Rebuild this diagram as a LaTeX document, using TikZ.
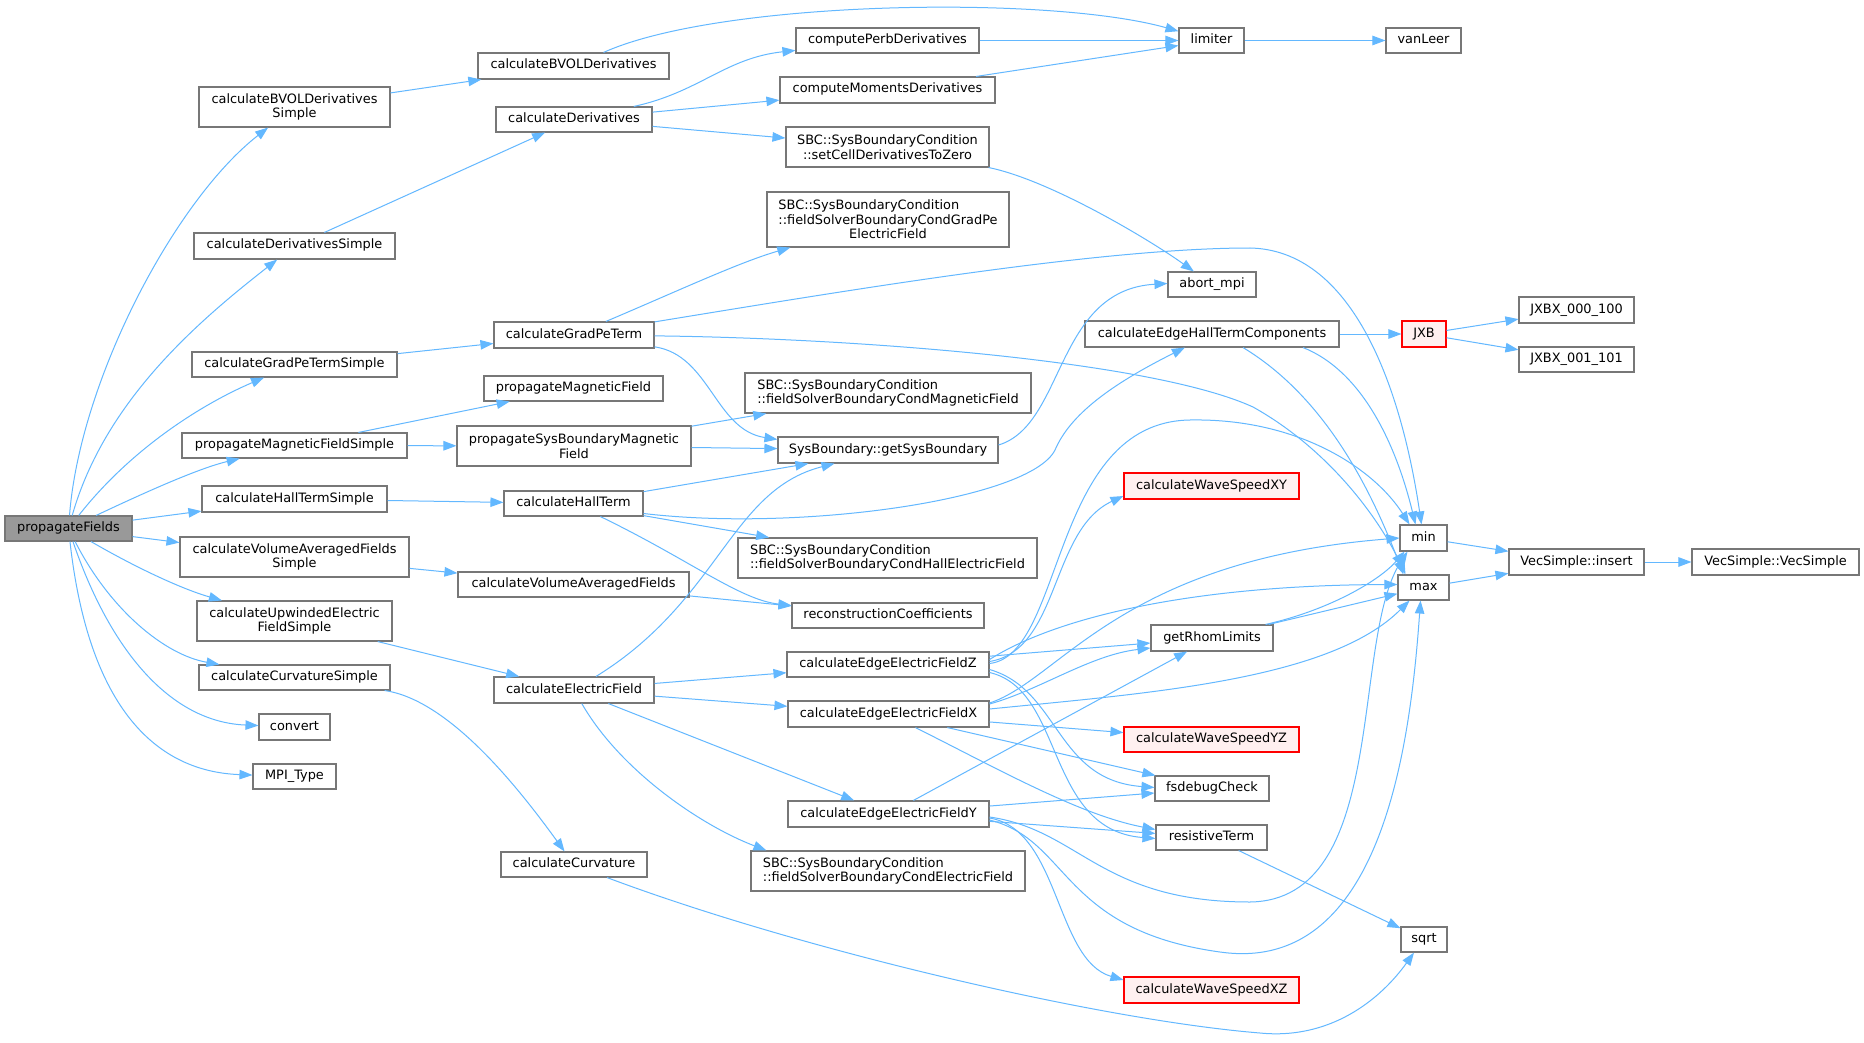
\documentclass[tikz,border=0pt]{standalone}
\usepackage{fontspec}
\setmainfont{DejaVu Sans}
\usetikzlibrary{arrows.meta}
\definecolor{edgeblue}{HTML}{63B8FF}
\definecolor{nodegray}{HTML}{777777}
\definecolor{rootfill}{HTML}{999999}
\definecolor{redfill}{HTML}{FFF0F0}
\newcommand{\sbcleft}[2]{\rlap{#1}\phantom{#2}}
\begin{document}
\begin{tikzpicture}[x=1pt,y=-1pt,
  lbl/.style={inner sep=0pt, font=\fontsize{12.9}{14.6}\selectfont, text=black},
  box/.style={lbl, draw=nodegray, fill=white, line width=1.1pt, text height=9.5pt, text depth=3.5pt},
  mbox/.style={lbl, draw=nodegray, fill=white, line width=1.1pt, align=center},
  redbox/.style={box, draw=red, fill=redfill},
  rootbox/.style={box, fill=rootfill},
  e/.style={draw=edgeblue, line width=1pt, -{Triangle[length=13pt,width=9.5pt]}}]
\useasboundingbox (0,0) rectangle (1864,1043);
\fill[white] (0,0) rectangle (1864,1043);
% column 1
\node[rootbox, minimum width=127pt, minimum height=25pt] (pf) at (68.5,528.5) {propagateFields};
\node[mbox, minimum width=191pt, minimum height=40pt] (bvols) at (294.5,107) {calculateBVOLDerivatives\\Simple};
\node[box, minimum width=201pt, minimum height=26pt] (ds) at (294.5,246) {calculateDerivativesSimple};
\node[box, minimum width=205pt, minimum height=25pt] (gps) at (294.5,364.5) {calculateGradPeTermSimple};
\node[box, minimum width=225pt, minimum height=25pt] (pmfs) at (294.5,445.5) {propagateMagneticFieldSimple};
\node[box, minimum width=185pt, minimum height=26pt] (hts) at (294.5,499) {calculateHallTermSimple};
\node[mbox, minimum width=229pt, minimum height=40pt] (vafs) at (294.5,557) {calculateVolumeAveragedFields\\Simple};
\node[mbox, minimum width=195pt, minimum height=40pt] (uefs) at (294.5,621) {calculateUpwindedElectric\\FieldSimple};
\node[box, minimum width=191pt, minimum height=25pt] (cs) at (294.5,677.5) {calculateCurvatureSimple};
\node[box, minimum width=71pt, minimum height=26pt] (conv) at (294.5,727) {convert};
\node[box, minimum width=83pt, minimum height=25pt] (mpi) at (294.5,776.5) {MPI\_Type};
% column 2
\node[box, minimum width=191pt, minimum height=26pt] (bvol) at (573.5,66) {calculateBVOLDerivatives};
\node[box, minimum width=156pt, minimum height=25pt] (der) at (574,119.5) {calculateDerivatives};
\node[box, minimum width=160pt, minimum height=26pt] (gp) at (574,335) {calculateGradPeTerm};
\node[box, minimum width=179pt, minimum height=25pt] (pmf) at (573.5,388.5) {propagateMagneticField};
\node[mbox, minimum width=234pt, minimum height=40pt] (psbmf) at (574,446) {propagateSysBoundaryMagnetic\\Field};
\node[box, minimum width=139pt, minimum height=25pt] (ht) at (573.5,503.5) {calculateHallTerm};
\node[box, minimum width=231pt, minimum height=25pt] (vaf) at (573.5,584.5) {calculateVolumeAveragedFields};
\node[box, minimum width=160pt, minimum height=26pt] (ef) at (574,690) {calculateElectricField};
\node[box, minimum width=146pt, minimum height=25pt] (curv) at (574,864.5) {calculateCurvature};
% column 3
\node[box, minimum width=183pt, minimum height=25pt] (perb) at (887.5,40.5) {computePerbDerivatives};
\node[box, minimum width=215pt, minimum height=26pt] (mom) at (887.5,90) {computeMomentsDerivatives};
\node[mbox, minimum width=203pt, minimum height=40pt] (scdz) at (887.5,147) {SBC::SysBoundaryCondition\\::setCellDerivativesToZero};
\node[mbox, minimum width=242pt, minimum height=55pt] (sgp) at (888,219.5) {\sbcleft{SBC::SysBoundaryCondition}{::fieldSolverBoundaryCondGradPe}\\::fieldSolverBoundaryCondGradPe\\ElectricField};
\node[mbox, minimum width=286pt, minimum height=40pt] (smf) at (888,393) {\sbcleft{SBC::SysBoundaryCondition}{::fieldSolverBoundaryCondMagneticField}\\::fieldSolverBoundaryCondMagneticField};
\node[box, minimum width=220pt, minimum height=26pt] (gsb) at (888,450) {SysBoundary::getSysBoundary};
\node[mbox, minimum width=299pt, minimum height=40pt] (shf) at (887.5,558) {\sbcleft{SBC::SysBoundaryCondition}{::fieldSolverBoundaryCondHallElectricField}\\::fieldSolverBoundaryCondHallElectricField};
\node[box, minimum width=192pt, minimum height=25pt] (rc) at (888,615.5) {reconstructionCoefficients};
\node[box, minimum width=202pt, minimum height=25pt] (ez) at (888,664.5) {calculateEdgeElectricFieldZ};
\node[box, minimum width=201pt, minimum height=26pt] (ex) at (888.5,714) {calculateEdgeElectricFieldX};
\node[box, minimum width=201pt, minimum height=26pt] (ey) at (888.5,814) {calculateEdgeElectricFieldY};
\node[mbox, minimum width=274pt, minimum height=40pt] (sef) at (888,871) {\sbcleft{SBC::SysBoundaryCondition}{::fieldSolverBoundaryCondElectricField}\\::fieldSolverBoundaryCondElectricField};
% column 4
\node[box, minimum width=65pt, minimum height=25pt] (lim) at (1211.5,40.5) {limiter};
\node[box, minimum width=88pt, minimum height=25pt] (abort) at (1212,284.5) {abort\_mpi};
\node[box, minimum width=254pt, minimum height=26pt] (ehtc) at (1212,334) {calculateEdgeHallTermComponents};
\node[redbox, minimum width=175pt, minimum height=26pt] (wxy) at (1211.5,486) {calculateWaveSpeedXY};
\node[box, minimum width=122pt, minimum height=26pt] (grl) at (1212,638) {getRhomLimits};
\node[redbox, minimum width=175pt, minimum height=25pt] (wyz) at (1211.5,739.5) {calculateWaveSpeedYZ};
\node[box, minimum width=114pt, minimum height=25pt] (fsd) at (1212,788.5) {fsdebugCheck};
\node[box, minimum width=111pt, minimum height=25pt] (rt) at (1211.5,837.5) {resistiveTerm};
\node[redbox, minimum width=175pt, minimum height=26pt] (wxz) at (1211.5,990) {calculateWaveSpeedXZ};
% column 5
\node[box, minimum width=75pt, minimum height=25pt] (van) at (1423.5,40.5) {vanLeer};
\node[redbox, minimum width=44pt, minimum height=26pt] (jxb) at (1424,334) {JXB};
\node[box, minimum width=47pt, minimum height=26pt] (nmin) at (1423.5,538) {min};
\node[box, minimum width=51pt, minimum height=25pt] (nmax) at (1423.5,587.5) {max};
\node[box, minimum width=46pt, minimum height=25pt] (sqrt) at (1424,939.5) {sqrt};
% column 6/7
\node[box, minimum width=115pt, minimum height=26pt] (j000) at (1576.5,310) {JXBX\_000\_100};
\node[box, minimum width=115pt, minimum height=25pt] (j001) at (1576.5,359.5) {JXBX\_001\_101};
\node[box, minimum width=135pt, minimum height=26pt] (ins) at (1576.5,562) {VecSimple::insert};
\node[box, minimum width=167pt, minimum height=26pt] (vs) at (1775.5,562) {VecSimple::VecSimple};

% edges from propagateFields
\draw[e] (pf) .. controls (80,380) and (175,200) .. (bvols);
\draw[e] (pf) .. controls (105,400) and (200,320) .. (ds);
\draw[e] (pf) .. controls (130,450) and (200,405) .. (gps);
\draw[e] (pf) .. controls (150,490) and (200,468) .. (pmfs);
\draw[e] (pf) -- (hts);
\draw[e] (pf) -- (vafs);
\draw[e] (pf) .. controls (140,570) and (185,590) .. (uefs);
\draw[e] (pf) .. controls (110,610) and (165,655) .. (cs);
\draw[e] (pf) .. controls (110,650) and (170,722) .. (conv);
\draw[e] (pf) .. controls (90,720) and (165,772) .. (mpi);
% column 1 -> 2
\draw[e] (bvols) -- (bvol);
\draw[e] (ds) -- (der);
\draw[e] (gps) -- (gp);
\draw[e] (pmfs) -- (pmf);
\draw[e] (pmfs) -- (psbmf);
\draw[e] (hts) -- (ht);
\draw[e] (vafs) -- (vaf);
\draw[e] (uefs) -- (ef);
\draw[e] (cs) .. controls (450,700) and (520,790) .. (curv);
% column 2 onwards
\draw[e] (bvol) .. controls (720,0) and (1050,-5) .. (lim);
\draw[e] (der) .. controls (700,92) and (725,58) .. (perb);
\draw[e] (der) -- (mom);
\draw[e] (der) -- (scdz);
\draw[e] (perb) -- (lim);
\draw[e] (mom) -- (lim);
\draw[e] (lim) -- (van);
\draw[e] (scdz) .. controls (1050,180) and (1150,240) .. (abort);
\draw[e] (gp) .. controls (680,290) and (740,262) .. (sgp);
\draw[e] (gp) .. controls (850,290) and (1100,248) .. (1250,248) .. controls (1350,250) and (1400,380) .. (nmin);
\draw[e] (gp) .. controls (850,338) and (1150,360) .. (1253,407) .. controls (1330,450) and (1380,520) .. ([xshift=-18pt]nmax.north);
\draw[e] (gp) .. controls (710,355) and (715,430) .. ([yshift=-3pt]gsb.north west);
\draw[e] (psbmf) -- (smf);
\draw[e] (psbmf) -- (gsb);
\draw[e] ([yshift=5pt]gsb.east) .. controls (1065,425) and (1055,290) .. ([yshift=1pt]abort.west);
\draw[e] (ht) -- (gsb);
\draw[e] ([yshift=-10pt]ht.east) .. controls (800,532) and (1030,500) .. (1055,450) .. controls (1070,415) and (1110,385) .. (ehtc);
\draw[e] (ht) -- (shf);
\draw[e] (ht) .. controls (690,560) and (740,600) .. (rc);
\draw[e] (vaf) -- (rc);
\draw[e] (ef) .. controls (720,600) and (730,490) .. (gsb);
\draw[e] (ef) -- (ez);
\draw[e] (ef) -- (ex);
\draw[e] (ef) -- (ey);
\draw[e] (ef) .. controls (620,770) and (700,825) .. ([xshift=16pt]sef.north west);
\draw[e] ([xshift=33pt]curv.south) .. controls (800,950) and (1100,1020) .. (1260,1033) .. controls (1330,1040) and (1380,1000) .. ([xshift=-10pt]sqrt.south);
% EHTC / JXB
\draw[e] (ehtc) -- (jxb);
\draw[e] ([xshift=91pt]ehtc.south) .. controls (1360,370) and (1395,440) .. ([xshift=-8pt]nmin.north);
\draw[e] ([xshift=31pt]ehtc.south) .. controls (1330,400) and (1375,500) .. ([xshift=-20pt]nmax.north);
\draw[e] (jxb) -- (j000);
\draw[e] (jxb) -- (j001);
% Z
\draw[e] ([yshift=3pt]ez.east) .. controls (1060,650) and (1050,530) .. ([yshift=-10pt]wxy.west);
\draw[e] ([yshift=1pt]ez.east) .. controls (1065,655) and (1050,422) .. (1190,420) .. controls (1300,418) and (1375,470) .. ([xshift=-14pt]nmin.north);
\draw[e] ([yshift=5pt]ez.east) .. controls (1060,615) and (1200,585) .. ([yshift=3pt]nmax.west);
\draw[e] (ez) -- (grl);
\draw[e] ([yshift=-5pt]ez.east) .. controls (1060,690) and (1055,780) .. ([yshift=1pt]fsd.west);
\draw[e] ([yshift=-8pt]ez.east) .. controls (1065,690) and (1045,830) .. ([yshift=-1pt]rt.west);
% X
\draw[e] ([yshift=10pt]ex.east) .. controls (1040,690) and (1090,655) .. ([yshift=-10pt]grl.west);
\draw[e] ([yshift=11pt]ex.east) .. controls (1060,680) and (1120,560) .. (nmin.west);
\draw[e] ([yshift=5pt]ex.east) .. controls (1150,693) and (1330,680) .. ([xshift=-14pt]nmax.south);
\draw[e] (ex) -- (wyz);
\draw[e] (ex) -- (fsd);
\draw[e] (ex) .. controls (1000,770) and (1080,815) .. ([yshift=8pt]rt.west);
% Y
\draw[e] (ey) -- (grl);
\draw[e] (ey) -- (fsd);
\draw[e] (ey) -- (rt);
\draw[e] ([yshift=-3pt]ey.east) .. controls (1080,830) and (1100,902) .. (1250,902) .. controls (1390,900) and (1350,640) .. ([xshift=-16pt]nmin.south);
\draw[e] ([yshift=-6pt]ey.east) .. controls (1070,840) and (1060,930) .. (1220,952) .. controls (1380,975) and (1410,750) .. ([xshift=-3pt]nmax.south);
\draw[e] ([yshift=-4pt]ey.east) .. controls (1060,830) and (1055,960) .. ([yshift=10pt]wxz.west);
% getRhomLimits and right side
\draw[e] ([xshift=-8pt]grl.north east) .. controls (1330,610) and (1380,580) .. ([xshift=-19pt]nmin.south);
\draw[e] (grl) -- (nmax);
\draw[e] (nmin) -- (ins);
\draw[e] (nmax) -- (ins);
\draw[e] (ins) -- (vs);
\draw[e] (rt) -- (sqrt);
\end{tikzpicture}
\end{document}
